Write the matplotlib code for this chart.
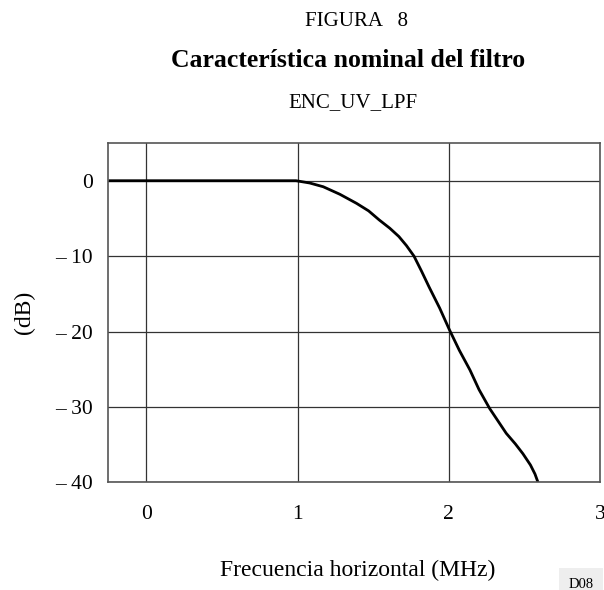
import matplotlib.pyplot as plt

# filter response
freq_mhz = [-0.25, 0.0, 0.5, 0.99, 1.08, 1.17, 1.28, 1.39, 1.47, 1.54, 1.61, 1.67, 1.72,
            1.77, 1.82, 1.87, 1.94, 2.005, 2.07, 2.14, 2.2, 2.27, 2.33, 2.38, 2.44,
            2.49, 2.54, 2.57, 2.59]
gain_db = [0.0, 0.0, 0.0, 0.0, -0.3, -0.8, -1.8, -3.0, -4.0, -5.2, -6.3, -7.4, -8.6,
           -10.0, -12.0, -14.1, -16.9, -19.8, -22.5, -25.1, -27.7, -30.2, -32.0, -33.5, -34.9,
           -36.2, -37.7, -38.9, -40.0]

x_ticks = [0, 1, 2, 3]
y_ticks = [0, -10, -20, -30, -40]
y_tick_labels = ['0', '\u2013 10', '\u2013 20', '\u2013 30', '\u2013 40']

plt.rcParams['font.family'] = ['Liberation Serif', 'DejaVu Serif']

fig = plt.figure(figsize=(6.04, 5.90), dpi=100)
ax = fig.add_axes([0.1796, 0.1825, 0.8138, 0.5751])

ax.plot(freq_mhz, gain_db, color='black', linewidth=2.0, solid_capstyle='butt')

ax.set_xlim(-0.25, 3)
ax.set_ylim(-40, 5)
ax.set_xticks(x_ticks)
ax.set_yticks(y_ticks)
ax.set_yticklabels(y_tick_labels)
ax.tick_params(length=0, labelsize=15.5)
ax.tick_params(axis='x', pad=16)
ax.tick_params(axis='y', pad=11)
ax.grid(True, color='#333333', linewidth=0.9)
for s in ax.spines.values():
    s.set_color('#555555')
    s.set_linewidth(1.2)

fig.text(0.591, 0.963, 'FIGURA   8', ha='center', va='center', fontsize=15)
fig.text(0.576, 0.897, 'Característica nominal del filtro', ha='center', va='center',
         fontsize=18.5, fontweight='bold')
fig.text(0.585, 0.826, 'ENC_UV_LPF', ha='center', va='center', fontsize=15)
fig.text(0.593, 0.033, 'Frecuencia horizontal (MHz)', ha='center', va='center', fontsize=17)
fig.text(0.040, 0.47, '(dB)', ha='center', va='center', rotation=90, fontsize=17)
fig.text(0.962, 0.01, 'D08', ha='center', va='center', fontsize=10.5,
         bbox=dict(facecolor='#eeeeee', edgecolor='none', pad=7))

fig.savefig('out.png', dpi=100)
